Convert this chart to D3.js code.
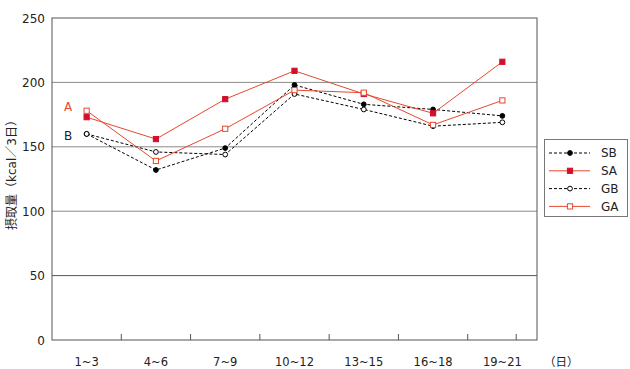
<!DOCTYPE html>
<html>
<head>
<meta charset="utf-8">
<script src="https://cdn.jsdelivr.net/npm/d3@7"></script>
<style>
  body { margin: 0; background: #fff; }
  svg { display: block; font-family: "DejaVu Sans", "Noto Sans CJK JP", sans-serif; }
</style>
</head>
<body>
<svg id="chart" width="630" height="369"></svg>
<script>
// 区間（日）
var periods = ["1~3", "4~6", "7~9", "10~12", "13~15", "16~18", "19~21"];
var yTicks = [0, 50, 100, 150, 200, 250];

var SB = [160, 132, 149, 198, 183, 179, 174];
var SA = [173, 156, 187, 209, 191, 176, 216];
var GB = [160, 146, 144, 191, 179, 166, 169];
var GA = [178, 139, 164, 194, 192, 167, 186];

var lineRed = "#e8472e";
var fillRed = "#d0102c";

var seriesList = [
    {name: "SB", values: SB, color: "#000", dash: "3,2", marker: "circle", fill: "#000"},
    {name: "SA", values: SA, color: lineRed, dash: null, marker: "square", fill: fillRed},
    {name: "GB", values: GB, color: "#000", dash: "3,2", marker: "circle", fill: "#fff"},
    {name: "GA", values: GA, color: lineRed, dash: null, marker: "square", fill: "#fff"}
];

var svg = d3.select("#chart");
var plotLeft = 52, plotRight = 537, plotTop = 18, plotBottom = 340;

var x = d3.scaleBand().domain(periods).range([plotLeft, plotRight]);
var y = d3.scaleLinear().domain([0, 250]).range([plotBottom, plotTop]);
var cx = d => x(d) + x.bandwidth() / 2;

// grid lines
svg.selectAll("line.grid")
    .data(yTicks.filter(d => d > 0 && d < 250))
    .enter().append("line")
    .attr("class", "grid")
    .attr("x1", plotLeft).attr("x2", plotRight)
    .attr("y1", d => y(d)).attr("y2", d => y(d))
    .attr("stroke", d => d == 50 ? "#555" : "#8a8a8a")
    .attr("stroke-width", 1);

// frame
svg.append("rect")
    .attr("x", plotLeft).attr("y", y(250))
    .attr("width", plotRight - plotLeft).attr("height", y(0) - y(250))
    .attr("fill", "none").attr("stroke", "#555").attr("stroke-width", 1);

// x ticks (inward) at band edges, plus the short one inside the last band
var tickPos = periods.slice(1).map(d => x(d));
tickPos.push(x(periods[6]) + x.bandwidth() * 0.7);
svg.selectAll("line.xtick")
    .data(tickPos)
    .enter().append("line")
    .attr("x1", d => d).attr("x2", d => d)
    .attr("y1", plotBottom).attr("y2", plotBottom - 6)
    .attr("stroke", "#555");

// y labels
svg.selectAll("text.ylab")
    .data(yTicks)
    .enter().append("text")
    .attr("x", 45).attr("y", d => y(d))
    .attr("dy", "0.38em")
    .attr("text-anchor", "end")
    .attr("font-size", 12)
    .attr("fill", "#222")
    .text(d => d);

// x labels
svg.selectAll("text.xlab")
    .data(periods)
    .enter().append("text")
    .attr("x", d => cx(d)).attr("y", 366)
    .attr("text-anchor", "middle")
    .attr("font-size", 11.5)
    .attr("fill", "#222")
    .text(d => d);

svg.append("text")
    .attr("x", 544).attr("y", 366)
    .attr("font-size", 11.5).attr("fill", "#222")
    .text("（日）");

// y title
svg.append("text")
    .attr("transform", "translate(16,172) rotate(-90)")
    .attr("text-anchor", "middle")
    .attr("font-size", 12).attr("fill", "#222")
    .text("摂取量（kcal／3日）");

// A / B labels
svg.append("text").attr("x", 68).attr("y", 107).attr("dy", "0.35em")
    .attr("text-anchor", "middle").attr("font-size", 12).attr("fill", lineRed).text("A");
svg.append("text").attr("x", 68).attr("y", 136).attr("dy", "0.35em")
    .attr("text-anchor", "middle").attr("font-size", 12).attr("fill", "#222").text("B");

var line = d3.line().x((d, i) => cx(periods[i])).y(d => y(d));

function drawMarker(g, s, px, py) {
    if (s.marker == "circle") {
        g.append("circle").attr("cx", px).attr("cy", py).attr("r", 2.4)
            .attr("fill", s.fill).attr("stroke", "#000").attr("stroke-width", 1);
    } else {
        g.append("rect").attr("x", px - 2.6).attr("y", py - 2.6)
            .attr("width", 5.2).attr("height", 5.2)
            .attr("fill", s.fill)
            .attr("stroke", s.fill == "#fff" ? lineRed : fillRed).attr("stroke-width", 1);
    }
}

seriesList.forEach(function(s) {
    var g = svg.append("g");
    g.append("path")
        .attr("d", line(s.values))
        .attr("fill", "none")
        .attr("stroke", s.color)
        .attr("stroke-width", 1)
        .attr("stroke-dasharray", s.dash);
    s.values.forEach((v, i) => drawMarker(g, s, cx(periods[i]), y(v)));
});

// legend
var lg = svg.append("g");
lg.append("rect").attr("x", 544.5).attr("y", 139.5).attr("width", 83).attr("height", 77)
    .attr("fill", "#fff").attr("stroke", "#777");
seriesList.forEach(function(s, i) {
    var ly = 153 + i * 17.8;
    lg.append("line").attr("x1", 549).attr("x2", 590).attr("y1", ly).attr("y2", ly)
        .attr("stroke", s.color).attr("stroke-dasharray", s.dash);
    drawMarker(lg, s, 570, ly);
    lg.append("text").attr("x", 601).attr("y", ly).attr("dy", "0.36em")
        .attr("font-size", 12).attr("fill", "#222").text(s.name);
});
</script>
</body>
</html>
